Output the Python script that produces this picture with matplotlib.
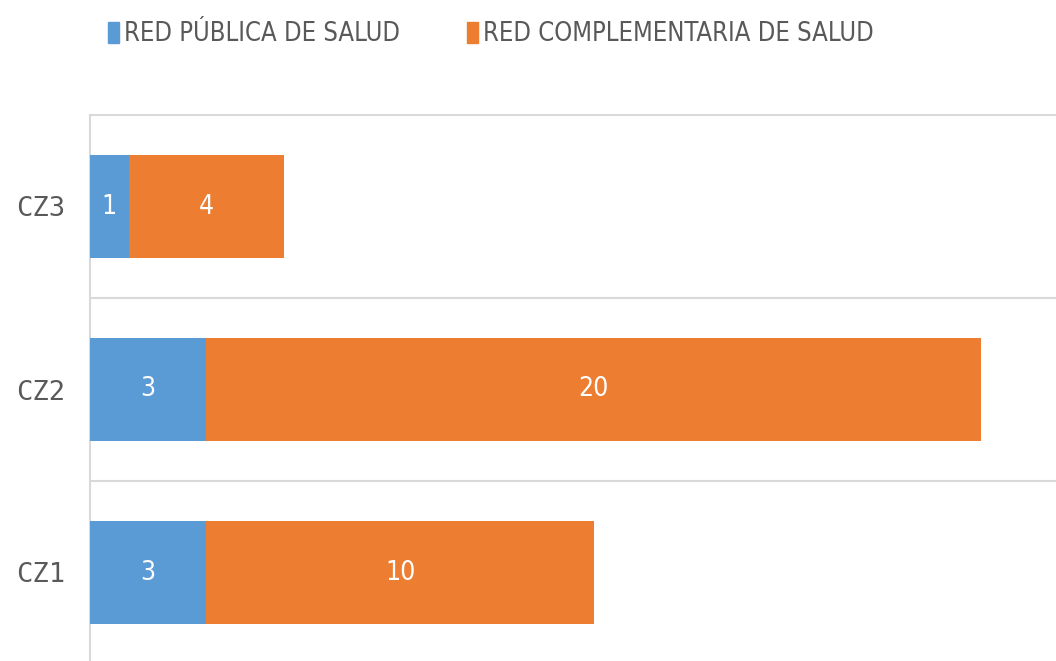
import matplotlib.pyplot as plt
from matplotlib.patches import Patch
from matplotlib import font_manager

# data
zones = ["CZ1", "CZ2", "CZ3"]
red_publica = [3, 3, 1]
red_complementaria = [10, 20, 4]
series_names = ["RED PÚBLICA DE SALUD", "RED COMPLEMENTARIA DE SALUD"]

blue = "#5B9BD5"
orange = "#ED7D31"
grey = "#595959"

plt.rcParams["font.family"] = ["DejaVu Sans"]
cond = font_manager.FontProperties(family="DejaVu Sans", stretch="condensed", size=19)

fig = plt.figure(figsize=(10.56, 6.61), dpi=100)
ax = fig.add_axes([90 / 1056, -3 / 661, 969 / 1056, 549 / 661])

y = range(len(zones))
ax.barh(y, red_publica, height=0.56, color=blue, zorder=3)
ax.barh(y, red_complementaria, left=red_publica, height=0.56, color=orange, zorder=3)

for i in y:
    ax.text(red_publica[i] / 2, i, str(red_publica[i]), color="white",
            ha="center", va="center", fontproperties=cond, zorder=4)
    ax.text(red_publica[i] + red_complementaria[i] / 2, i, str(red_complementaria[i]),
            color="white", ha="center", va="center", fontproperties=cond, zorder=4)

ax.set_xlim(0, 25)
ax.set_ylim(-0.5, 2.5)
ax.set_yticks(list(y))
ax.set_yticklabels(zones, fontsize=19.5, color=grey, family="DejaVu Sans Mono")
ax.set_xticks([])
ax.tick_params(axis="y", length=0, pad=18)

for i in [0.5, 1.5]:
    ax.axhline(i, color="#D9D9D9", lw=1.5, zorder=1)
for s in ["right", "bottom"]:
    ax.spines[s].set_visible(False)
for s in ["top", "left"]:
    ax.spines[s].set_color("#D9D9D9")
    ax.spines[s].set_linewidth(1.5)

leg_font = font_manager.FontProperties(family="DejaVu Sans", stretch="condensed", size=18.4)
handles = [Patch(color=blue), Patch(color=orange)]
fig.legend(handles, series_names, loc="upper center", bbox_to_anchor=(0.465, 1.003),
           ncol=2, frameon=False, prop=leg_font, labelcolor=grey,
           handlelength=0.45, handleheight=0.9, handletextpad=0.2, columnspacing=2.6)

fig.savefig("out.png", dpi=100)
